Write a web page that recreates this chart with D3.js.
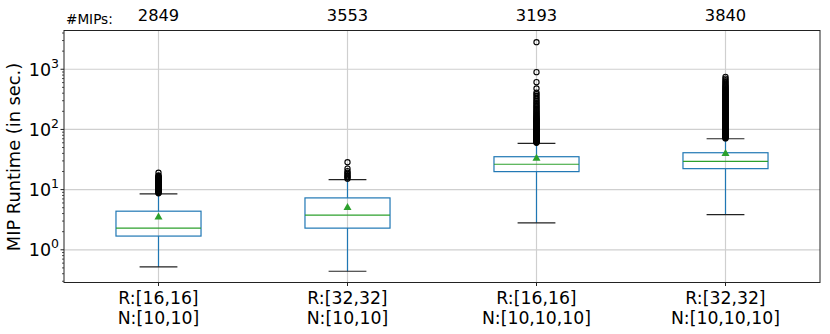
<!DOCTYPE html>
<html>
<head>
<meta charset="utf-8">
<script src="https://cdn.jsdelivr.net/npm/d3@7"></script>
<style>
  body { margin: 0; background: #fff; }
  text { font-family: "DejaVu Sans", sans-serif; fill: #000; }
</style>
</head>
<body>
<svg id="chart"></svg>
<script>
// categories (two-line tick labels) and number of MIPs per group
var labelsR = ["R:[16,16]", "R:[32,32]", "R:[16,16]", "R:[32,32]"];
var labelsN = ["N:[10,10]", "N:[10,10]", "N:[10,10,10]", "N:[10,10,10]"];
var counts = [2849, 3553, 3193, 3840];

// box statistics (seconds)
var whiskerLo = [0.52, 0.44, 2.8, 3.85];
var q1 = [1.69, 2.29, 19.9, 22.3];
var median = [2.29, 3.76, 26.4, 29.5];
var q3 = [4.38, 7.28, 35.2, 41.0];
var whiskerHi = [8.5, 14.6, 58.8, 70.0];
var means = [3.48, 5.03, 33.1, 39.5];

// outliers
var fliers = [
  [8.7, 8.9, 9.1, 9.3, 9.5, 9.7, 9.9, 10.1, 10.3, 10.5, 10.7, 10.9, 11.1, 11.3, 11.5, 11.8, 12.0, 12.3,
   12.5, 12.8, 13.0, 13.3, 13.6, 13.9, 14.2, 14.5, 14.8, 15.1, 15.4, 15.7, 16.0, 16.4, 16.8, 17.2, 19.1],
  [15.2, 15.9, 16.6, 17.4, 18.3, 19.2, 20.3, 22.4, 28.5],
  [60, 61, 62, 63, 64, 65, 66, 67, 68, 69, 70, 71.5, 73, 74.5, 76, 77.5, 79, 80.5, 82, 84, 86, 88, 90, 92,
   94, 96, 98, 100, 102, 104, 106, 108, 110, 113, 116, 119, 122, 125, 128, 131, 134, 137, 140, 143, 146,
   150, 154, 158, 162, 168, 174, 180, 187, 194, 202, 210, 220, 230, 240, 252, 265, 280, 296, 315, 335,
   360, 385, 410, 479, 611, 895, 2817],
  [71, 72.5, 74, 75.5, 77, 78.5, 80, 81.5, 83, 85, 87, 89, 91, 93, 95, 97, 99, 101, 103, 105.5, 108, 110.5,
   113, 115.5, 118, 121, 124, 127, 130, 133, 136, 139, 142, 145.5, 149, 152.5, 156, 160, 164, 168, 172,
   176, 180, 184.5, 189, 193.5, 198, 203, 208, 213, 218, 223, 229, 235, 241, 247, 253, 259, 266, 273, 280,
   287, 294, 302, 310, 318, 326, 335, 344, 353, 362, 372, 382, 393, 404, 415, 427, 440, 453, 467, 481,
   496, 512, 530, 550, 575, 600, 630, 660, 700, 748]
];

var yTicks = [1, 10, 100, 1000];
var yTickExp = ["0", "1", "2", "3"];

var width = 830, height = 334;
var margin = {top: 30.5, right: 10, bottom: 51.5, left: 64};

var svg = d3.select("svg#chart")
  .attr("width", width).attr("height", height);

var idx = d3.range(counts.length);

var x = d3.scaleBand()
  .domain(idx)
  .range([margin.left, width - margin.right])
  .padding(0);

var y = d3.scaleLog()
  .domain([0.286, 4405])
  .range([height - margin.bottom, margin.top]);

var bw = x.bandwidth();
function cx(i) { return x(i) + bw / 2; }

var plotL = margin.left, plotR = width - margin.right;
var plotT = margin.top, plotB = height - margin.bottom;

// grid
var grid = svg.append("g");
grid.selectAll("line.h").data(yTicks).enter().append("line")
  .attr("x1", plotL).attr("x2", plotR)
  .attr("y1", function(d) { return y(d); })
  .attr("y2", function(d) { return y(d); })
  .attr("stroke", "#cfcfcf").attr("stroke-width", 1.2);
grid.selectAll("line.v").data(idx).enter().append("line")
  .attr("x1", function(i) { return cx(i); })
  .attr("x2", function(i) { return cx(i); })
  .attr("y1", plotT).attr("y2", plotB)
  .attr("stroke", "#cfcfcf").attr("stroke-width", 1.2);

// boxes
var g = svg.selectAll("g.box").data(idx).enter().append("g");
var boxW = bw * 0.45, capW = bw * 0.2;

// whiskers
g.append("line")
  .attr("x1", cx).attr("x2", cx)
  .attr("y1", function(i) { return y(whiskerLo[i]); })
  .attr("y2", function(i) { return y(q1[i]); })
  .attr("stroke", "#1f77b4").attr("stroke-width", 1.2);
g.append("line")
  .attr("x1", cx).attr("x2", cx)
  .attr("y1", function(i) { return y(q3[i]); })
  .attr("y2", function(i) { return y(whiskerHi[i]); })
  .attr("stroke", "#1f77b4").attr("stroke-width", 1.2);

// caps
[whiskerLo, whiskerHi].forEach(function(arr) {
  g.append("line")
    .attr("x1", function(i) { return cx(i) - capW / 2; })
    .attr("x2", function(i) { return cx(i) + capW / 2; })
    .attr("y1", function(i) { return y(arr[i]); })
    .attr("y2", function(i) { return y(arr[i]); })
    .attr("stroke", "#222").attr("stroke-width", 1.2);
});

// fliers
g.selectAll("circle").data(function(i) {
  return fliers[i].map(function(v) { return {i: i, v: v}; });
}).enter().append("circle")
  .attr("cx", function(d) { return cx(d.i); })
  .attr("cy", function(d) { return y(d.v); })
  .attr("r", 2.6)
  .attr("fill", "none").attr("stroke", "#000").attr("stroke-width", 1.1);

// box rect
g.append("rect")
  .attr("x", function(i) { return cx(i) - boxW / 2; })
  .attr("y", function(i) { return y(q3[i]); })
  .attr("width", boxW)
  .attr("height", function(i) { return y(q1[i]) - y(q3[i]); })
  .attr("fill", "none").attr("stroke", "#1f77b4").attr("stroke-width", 1.2);

// median
g.append("line")
  .attr("x1", function(i) { return cx(i) - boxW / 2; })
  .attr("x2", function(i) { return cx(i) + boxW / 2; })
  .attr("y1", function(i) { return y(median[i]); })
  .attr("y2", function(i) { return y(median[i]); })
  .attr("stroke", "#2ca02c").attr("stroke-width", 1.2);

// mean marker
g.append("path")
  .attr("d", d3.symbol().type(d3.symbolTriangle).size(28))
  .attr("transform", function(i) { return "translate(" + cx(i) + "," + y(means[i]) + ")"; })
  .attr("fill", "#2ca02c");

// frame
svg.append("rect")
  .attr("x", plotL).attr("y", plotT)
  .attr("width", plotR - plotL).attr("height", plotB - plotT)
  .attr("fill", "none").attr("stroke", "#222").attr("stroke-width", 1);

// y ticks (major + minor)
var minor = [];
[0.1, 1, 10, 100, 1000].forEach(function(b) {
  for (var k = 2; k <= 9; k++) {
    var v = b * k;
    if (v >= y.domain()[0] && v <= y.domain()[1]) minor.push(v);
  }
});
svg.selectAll("line.minor").data(minor).enter().append("line")
  .attr("x1", plotL - 2).attr("x2", plotL)
  .attr("y1", function(d) { return y(d); })
  .attr("y2", function(d) { return y(d); })
  .attr("stroke", "#222").attr("stroke-width", 0.8);
svg.selectAll("line.major").data(yTicks).enter().append("line")
  .attr("x1", plotL - 3.5).attr("x2", plotL)
  .attr("y1", function(d) { return y(d); })
  .attr("y2", function(d) { return y(d); })
  .attr("stroke", "#222").attr("stroke-width", 1);

var yl = svg.selectAll("text.ytick").data(yTicks).enter().append("text")
  .attr("x", 59)
  .attr("y", function(d) { return y(d) + 6.5; })
  .attr("text-anchor", "end")
  .style("font-size", "17.5px");
yl.append("tspan").text("10");
yl.append("tspan")
  .attr("dy", -8)
  .style("font-size", "12.5px")
  .text(function(d, i) { return yTickExp[i]; });

// x ticks
svg.selectAll("line.xtick").data(idx).enter().append("line")
  .attr("x1", cx).attr("x2", cx)
  .attr("y1", plotB).attr("y2", plotB + 3.5)
  .attr("stroke", "#222").attr("stroke-width", 1);
var xl = svg.selectAll("text.xlab").data(idx).enter().append("text")
  .attr("text-anchor", "middle")
  .style("font-size", "17.3px");
xl.append("tspan").attr("x", cx).attr("y", 303.5).text(function(i) { return labelsR[i]; });
xl.append("tspan").attr("x", cx).attr("y", 323.5).text(function(i) { return labelsN[i]; });

// counts on top
svg.append("text")
  .attr("x", 66).attr("y", 24)
  .style("font-size", "13.6px")
  .text("#MIPs:");
svg.selectAll("text.count").data(idx).enter().append("text")
  .attr("x", cx).attr("y", 21)
  .attr("text-anchor", "middle")
  .style("font-size", "16.3px")
  .text(function(i) { return counts[i]; });

// y label
svg.append("text")
  .attr("transform", "translate(20," + 157 + ") rotate(-90)")
  .attr("text-anchor", "middle")
  .style("font-size", "17.8px")
  .text("MIP Runtime (in sec.)");
</script>
</body>
</html>
